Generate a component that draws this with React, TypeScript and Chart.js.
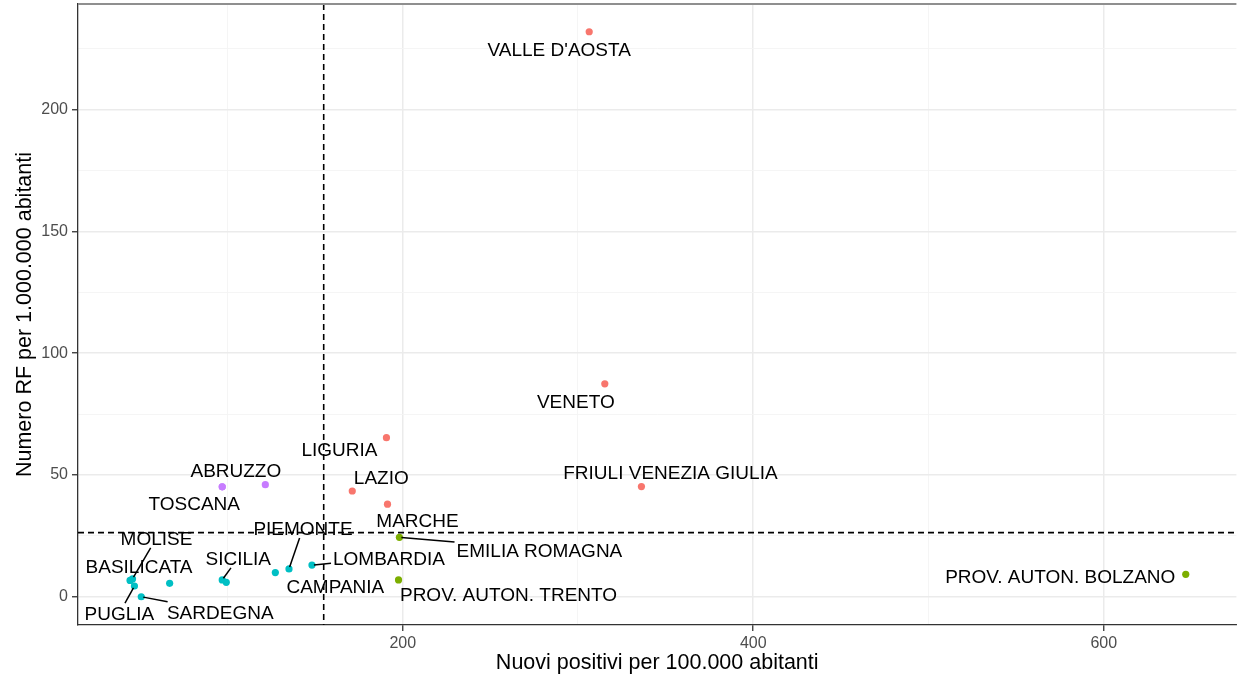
import React, { useEffect, useRef } from "react";
import { Chart, registerables } from "chart.js";

Chart.register(...registerables);

// ---- data ----
const regions = [
  "VALLE D'AOSTA", "VENETO", "FRIULI VENEZIA GIULIA", "LIGURIA", "LAZIO", "MARCHE",
  "EMILIA ROMAGNA", "PROV. AUTON. TRENTO", "PROV. AUTON. BOLZANO",
  "ABRUZZO", "TOSCANA", "UMBRIA",
  "MOLISE", "BASILICATA", "PUGLIA", "SARDEGNA", "CALABRIA", "SICILIA", "SICILIA_2",
  "CAMPANIA", "PIEMONTE", "LOMBARDIA",
];
const newPositives = [
  306.4, 315.3, 336.2, 190.7, 171.2, 191.3,
  198.1, 197.6, 646.8,
  121.6, 97.0, 97.0,
  45.8, 44.4, 46.9, 50.8, 67.0, 97.0, 99.3,
  127.3, 135.1, 148.2,
];
const rfPerMillion = [
  231.9, 87.4, 45.2, 65.3, 43.4, 38.0,
  24.4, 6.9, 9.2,
  46.0, 45.1, 45.1,
  7.3, 6.7, 4.4, 0.0, 5.5, 6.9, 5.9,
  9.9, 11.4, 13.0,
];
const groups = [
  1, 1, 1, 1, 1, 1,
  2, 2, 2,
  4, 4, 4,
  3, 3, 3, 3, 3, 3, 3,
  3, 3, 3,
];
const shownLabels = [
  "VALLE D'AOSTA", "VENETO", "FRIULI VENEZIA GIULIA", "LIGURIA", "LAZIO", "MARCHE",
  "EMILIA ROMAGNA", "PROV. AUTON. TRENTO", "PROV. AUTON. BOLZANO",
  "ABRUZZO", "TOSCANA", "", "MOLISE", "BASILICATA", "PUGLIA", "SARDEGNA", "", "SICILIA", "",
  "CAMPANIA", "PIEMONTE", "LOMBARDIA",
];
const xMedian = 154.9;
const yMedian = 26.3;
const xGridValues = [100, 200, 300, 400, 500, 600];
const xTickLabels = [200, 400, 600];
const yGridValues = [0, 25, 50, 75, 100, 125, 150, 175, 200, 225];
const yTickLabels = [0, 50, 100, 150, 200];
const xTitle = "Nuovi positivi per 100.000 abitanti";
const yTitle = "Numero RF per 1.000.000 abitanti";

// ---- presentation (label placement in pixels, like ggrepel output) ----
const labelOffsets: [number, number][] = [
  [-30, 17], [-29, 17], [29, -15], [-47, 11], [29, -14], [30, 16],
  [140, 12], [110, 14], [-125.5, 1],
  [-29.5, -15], [-28, 16], [0, 0],
  [24, -41], [9, -15], [-15, 27], [79, 15], [0, 0], [16, -22], [0, 0],
  [60, 13], [14, -41], [77, -7],
];
const labelBaselineShift = 2;
const labelSegments = [
  false, false, false, false, false, false,
  true, false, false,
  false, false, false,
  true, false, true, true, false, true, false,
  false, true, true,
];
const groupColors: Record<number, string> = {
  1: "#F8766D",
  2: "#7CAE00",
  3: "#00BFC4",
  4: "#C77CFF",
};
const FONT = "'Liberation Sans', Arial, Helvetica, sans-serif";

export default function App() {
  const ref = useRef<HTMLCanvasElement | null>(null);

  useEffect(() => {
    document.body.style.margin = "0";
    const canvas = ref.current;
    if (!canvas) return;

    const datasets = [1, 2, 3, 4].map((g) => {
      const pts: { x: number; y: number }[] = [];
      regions.forEach((_, i) => {
        if (groups[i] === g) pts.push({ x: newPositives[i], y: rfPerMillion[i] });
      });
      return {
        label: "g" + g,
        data: pts,
        backgroundColor: groupColors[g],
        borderWidth: 0,
        pointRadius: 3.6,
        pointHoverRadius: 3.6,
      };
    });

    const refLines = {
      id: "refLines",
      beforeDatasetsDraw(chart: any) {
        const { ctx, chartArea, scales } = chart;
        const px = scales.x.getPixelForValue(xMedian);
        const py = scales.y.getPixelForValue(yMedian);
        ctx.save();
        ctx.strokeStyle = "#000";
        ctx.lineWidth = 1.6;
        ctx.setLineDash([6, 4]);
        ctx.beginPath();
        ctx.moveTo(px, chartArea.top);
        ctx.lineTo(px, chartArea.bottom);
        ctx.moveTo(chartArea.left, py);
        ctx.lineTo(chartArea.right, py);
        ctx.stroke();
        ctx.setLineDash([]);
        // top panel border
        ctx.strokeStyle = "#8f8f8f";
        ctx.lineWidth = 2;
        ctx.beginPath();
        ctx.moveTo(chartArea.left, chartArea.top);
        ctx.lineTo(chartArea.right, chartArea.top);
        ctx.stroke();
        ctx.restore();
      },
    };

    const labels = {
      id: "repelLabels",
      afterDatasetsDraw(chart: any) {
        const { ctx, scales } = chart;
        ctx.save();
        ctx.font = `19px ${FONT}`;
        ctx.textAlign = "center";
        ctx.textBaseline = "middle";
        regions.forEach((_, i) => {
          const text = shownLabels[i];
          if (!text) return;
          const px = scales.x.getPixelForValue(newPositives[i]);
          const py = scales.y.getPixelForValue(rfPerMillion[i]);
          const lx = px + labelOffsets[i][0];
          const ly = py + labelOffsets[i][1];
          if (labelSegments[i]) {
            const w = ctx.measureText(text).width / 2 + 2;
            const h = 10;
            const dx = px - lx;
            const dy = py - ly;
            const t = Math.min(
              dx !== 0 ? w / Math.abs(dx) : Infinity,
              dy !== 0 ? h / Math.abs(dy) : Infinity
            );
            const ex = lx + dx * t;
            const ey = ly + dy * t;
            const len = Math.hypot(px - ex, py - ey);
            const sx = px + ((ex - px) / len) * 2;
            const sy = py + ((ey - py) / len) * 2;
            ctx.strokeStyle = "#000";
            ctx.lineWidth = 1.5;
            ctx.beginPath();
            ctx.moveTo(sx, sy);
            ctx.lineTo(ex, ey);
            ctx.stroke();
          }
          ctx.fillStyle = "#000";
          ctx.fillText(text, lx, ly + labelBaselineShift);
        });
        ctx.restore();
      },
    };

    const gridColor = (ctx: any, labeled: number[]) =>
      labeled.includes(ctx.tick?.value) ? "#EBEBEB" : "#F4F4F4";
    const gridWidth = (ctx: any, labeled: number[]) =>
      labeled.includes(ctx.tick?.value) ? 1.5 : 0.9;
    const tickColor = (ctx: any, labeled: number[]) =>
      labeled.includes(ctx.tick?.value) ? "#333333" : "rgba(0,0,0,0)";

    const chart = new Chart(canvas, {
      type: "scatter",
      data: { datasets } as any,
      plugins: [refLines, labels],
      options: {
        responsive: false,
        animation: false,
        devicePixelRatio: 1,
        layout: { padding: { top: 4, right: -3.5, bottom: 0, left: 0 } },
        plugins: {
          legend: { display: false },
          tooltip: { enabled: false },
        },
        scales: {
          x: {
            type: "linear",
            min: 14.7,
            max: 675.7,
            afterBuildTicks: (axis: any) => {
              axis.ticks = xGridValues.map((v) => ({ value: v }));
            },
            afterFit: (s: any) => {
              s.height = 53;
              s.paddingLeft = 0;
              s.paddingRight = 0;
            },
            ticks: {
              autoSkip: false,
              maxRotation: 0,
              color: "#4D4D4D",
              font: { size: 16, family: FONT },
              padding: 3,
              callback: (v: any) => (xTickLabels.includes(Number(v)) ? String(v) : ""),
            },
            grid: {
              color: (c: any) => gridColor(c, xTickLabels),
              lineWidth: (c: any) => gridWidth(c, xTickLabels),
              tickColor: (c: any) => tickColor(c, xTickLabels),
              tickLength: 6,
              tickWidth: 1.3,
            } as any,
            border: { color: "#333333", width: 1.3 },
            title: {
              display: true,
              text: xTitle,
              color: "#000",
              font: { size: 21.5, family: FONT },
              padding: { top: 0, bottom: 2 },
            },
          },
          y: {
            type: "linear",
            min: -11.6,
            max: 243.3,
            afterBuildTicks: (axis: any) => {
              axis.ticks = yGridValues.map((v) => ({ value: v }));
            },
            afterFit: (s: any) => {
              s.width = 78;
              s.paddingTop = 0;
              s.paddingBottom = 0;
            },
            ticks: {
              autoSkip: false,
              color: "#4D4D4D",
              font: { size: 16, family: FONT },
              padding: 4,
              callback: (v: any) => (yTickLabels.includes(Number(v)) ? String(v) : ""),
            },
            grid: {
              color: (c: any) => gridColor(c, yTickLabels),
              lineWidth: (c: any) => gridWidth(c, yTickLabels),
              tickColor: (c: any) => tickColor(c, yTickLabels),
              tickLength: 6,
              tickWidth: 1.3,
            } as any,
            border: { color: "#333333", width: 1.3 },
            title: {
              display: true,
              text: yTitle,
              color: "#000",
              font: { size: 21.5, family: FONT },
              padding: { top: 12, bottom: 0 },
            },
          },
        },
      },
    });

    return () => chart.destroy();
  }, []);

  return (
    <div style={{ width: 1240, height: 678, background: "#fff" }}>
      <canvas ref={ref} width={1240} height={678} style={{ display: "block" }} />
    </div>
  );
}
